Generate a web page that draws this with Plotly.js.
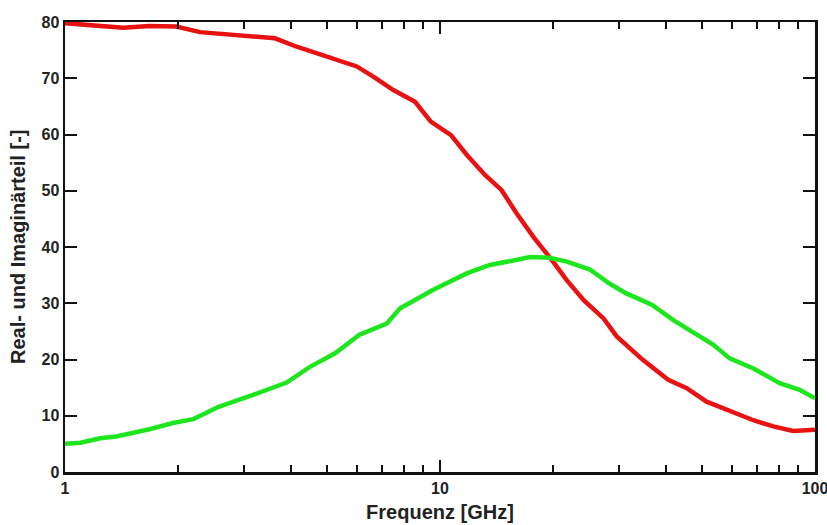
<!DOCTYPE html>
<html>
<head>
<meta charset="utf-8">
<script src="https://cdn.plot.ly/plotly-3.0.1.min.js"></script>
<style>html,body{margin:0;padding:0;background:#fff;}#chart{width:827px;height:525px;}</style>
</head>
<body>
<div id="chart"></div>
<script>
// Real part (red)
const realFreq = [1, 1.43, 1.68, 1.98, 2.29, 2.87, 3.15, 3.63, 4.15, 4.79, 5.41, 6.0, 6.64, 7.51, 8.58, 9.45, 10.7, 11.78, 13.18, 14.6, 16.0, 17.74, 19.86, 21.77, 24.2, 27.3, 29.6, 34.8, 40.6, 45.5, 51.4, 58.1, 68.5, 77.4, 87.5, 100];
const realVal  = [79.8, 79.0, 79.3, 79.2, 78.2, 77.7, 77.3, 77.1, 75.6, 74.3, 73.2, 72.1, 70.3, 67.9, 65.8, 62.3, 59.9, 56.4, 52.8, 50.1, 46.0, 41.8, 37.7, 34.1, 30.5, 27.3, 24.1, 19.9, 16.4, 14.9, 12.5, 11.0, 9.2, 8.1, 7.3, 7.5];
// Imaginary part (green)
const imagFreq = [1, 1.10, 1.24, 1.37, 1.68, 1.94, 2.2, 2.57, 3.2, 3.9, 4.5, 5.25, 6.1, 7.21, 7.83, 9.6, 11.78, 13.58, 15.7, 17.4, 19.6, 21.8, 25.1, 28.3, 31.3, 36.8, 41.9, 47.3, 53.6, 59.2, 68.5, 80.5, 91, 100];
const imagVal  = [5.0, 5.2, 6.0, 6.3, 7.6, 8.7, 9.4, 11.6, 13.8, 15.9, 18.7, 21.1, 24.4, 26.4, 29.1, 32.4, 35.3, 36.8, 37.6, 38.2, 38.1, 37.4, 36.0, 33.5, 31.8, 29.7, 27.0, 24.9, 22.6, 20.2, 18.4, 15.8, 14.6, 13.1];
const xTickVals = [1, 10, 100];
const xTickText = ['1', '10', '100'];
const xMinorVals = [2,3,4,5,6,7,8,9,20,30,40,50,60,70,80,90];
const yTickVals = [0, 10, 20, 30, 40, 50, 60, 70, 80];
const yTickText = ['0', '10', '20', '30', '40', '50', '60', '70', '80'];
const xTitle = 'Frequenz [GHz]';
const yTitle = 'Real- und Imaginärteil [-]';

const bold = s => '<b>' + s + '</b>';
const traces = [
  {x: realFreq, y: realVal, mode: 'lines', line: {color: '#e81212', width: 4.5}, hoverinfo: 'skip'},
  {x: imagFreq, y: imagVal, mode: 'lines', line: {color: '#1ee61e', width: 4.5}, hoverinfo: 'skip'}
];
const fontFam = '"Liberation Sans", Arial, sans-serif';
const layout = {
  width: 827, height: 525,
  margin: {l: 65, r: 12, t: 22, b: 53},
  paper_bgcolor: '#fff', plot_bgcolor: '#fff',
  showlegend: false,
  font: {family: fontFam, color: '#111', size: 16},
  xaxis: {
    type: 'log', range: [0, 2],
    tickvals: xTickVals, ticktext: xTickText.map(bold),
    ticklabeloverflow: 'allow',
    ticks: 'inside', ticklen: 12, tickwidth: 2, tickcolor: '#111',
    minor: {tickvals: xMinorVals, ticks: 'inside', ticklen: 7, tickwidth: 2, tickcolor: '#111', showgrid: false},
    showline: true, linecolor: '#111', linewidth: 2.5, mirror: 'ticks',
    showgrid: false, zeroline: false,
    tickfont: {family: fontFam, size: 16, color: '#222'},
    title: {text: bold(xTitle), font: {family: fontFam, size: 20, color: '#222'}, standoff: 10}
  },
  yaxis: {
    range: [0, 80],
    tickvals: yTickVals, ticktext: yTickText.map(bold),
    ticks: 'inside', ticklen: 12, tickwidth: 2, tickcolor: '#111',
    showline: true, linecolor: '#111', linewidth: 2.5, mirror: 'ticks',
    showgrid: false, zeroline: false,
    tickfont: {family: fontFam, size: 16, color: '#222'}
  },
  annotations: [{
    text: bold(yTitle), textangle: -90, showarrow: false,
    xref: 'paper', yref: 'paper', x: 0, y: 0.5, xanchor: 'center', yanchor: 'middle',
    xshift: -47,
    font: {family: fontFam, size: 20, color: '#222'}
  }]
};
Plotly.newPlot('chart', traces, layout, {displayModeBar: false, staticPlot: true});
</script>
</body>
</html>
